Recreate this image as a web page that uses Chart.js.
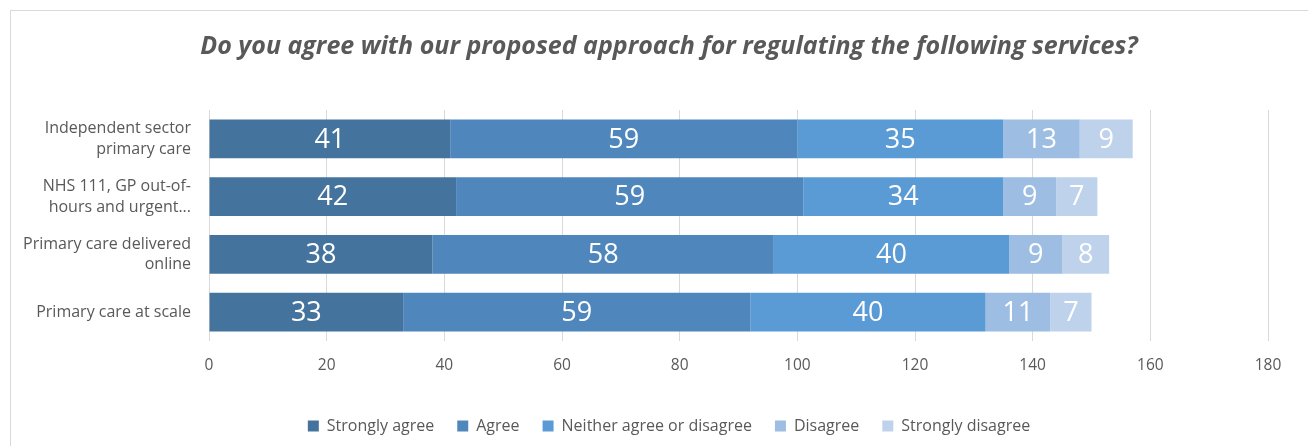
<!DOCTYPE html>
<html>
<head>
<meta charset="utf-8">
<script src="https://cdn.jsdelivr.net/npm/chart.js@4"></script>
<style>
  html, body { margin: 0; padding: 0; background: #fff; overflow: hidden; }
  #wrap { position: relative; width: 1308px; height: 446px; }
  #frame {
    position: absolute; left: 10px; top: 10px; width: 1400px; height: 600px;
    border-left: 1.5px solid #d9d9d9; border-top: 1.5px solid #d9d9d9;
  }
  canvas { position: absolute; left: 0; top: 0; }
</style>
</head>
<body>
<div id="wrap">
  <div id="frame"></div>
  <canvas id="c" width="1308" height="446"></canvas>
</div>
<script>
// Survey responses, counts per service
const CATEGORIES = [
  ["Independent sector", "primary care"],
  ["NHS 111, GP out-of-", "hours and urgent..."],
  ["Primary care delivered", "online"],
  ["Primary care at scale"],
];
const SERIES_NAMES = ["Strongly agree", "Agree", "Neither agree or disagree", "Disagree", "Strongly disagree"];
const STRONGLY_AGREE    = [41, 42, 38, 33];
const AGREE             = [59, 59, 58, 59];
const NEITHER           = [35, 34, 40, 40];
const DISAGREE          = [13, 9, 9, 11];
const STRONGLY_DISAGREE = [9, 7, 8, 7];
const COLORS = ["#44739d", "#4f87bd", "#5b9bd5", "#9dbde2", "#bed3eb"];

const TEXT = "#595959";
const FONT = "'Open Sans', 'Noto Sans', sans-serif";

// white value labels centred in each segment
const segmentLabels = {
  id: "segmentLabels",
  afterDatasetsDraw(chart) {
    const ctx = chart.ctx;
    ctx.save();
    ctx.fillStyle = "#fff";
    ctx.font = "27px " + FONT;
    ctx.textAlign = "center";
    ctx.textBaseline = "middle";
    chart.data.datasets.forEach((ds, i) => {
      chart.getDatasetMeta(i).data.forEach((bar, j) => {
        const { x, y, base } = bar.getProps(["x", "y", "base"], true);
        ctx.fillText(String(ds.data[j]), (x + base) / 2, y + 1);
      });
    });
    ctx.restore();
  }
};

// title and legend sit a bit right of the canvas centre in the original
const CENTRE_SHIFT = 35;
const shiftBlocks = {
  id: "shiftBlocks",
  afterLayout(chart) {
    [chart.titleBlock, chart.legend].forEach(b => {
      if (!b) return;
      b.left += CENTRE_SHIFT;
      b.right += CENTRE_SHIFT;
    });
  }
};

const seriesData = [STRONGLY_AGREE, AGREE, NEITHER, DISAGREE, STRONGLY_DISAGREE];

new Chart(document.getElementById("c"), {
  type: "bar",
  data: {
    labels: CATEGORIES,
    datasets: SERIES_NAMES.map((name, i) => ({
      label: name,
      data: seriesData[i],
      backgroundColor: COLORS[i],
      borderWidth: 0,
      categoryPercentage: 1,
      barPercentage: 0.67,
    })),
  },
  options: {
    indexAxis: "y",
    responsive: false,
    animation: false,
    layout: { padding: { left: 0, right: 40, top: 0, bottom: 2 } },
    plugins: {
      title: {
        display: true,
        text: "Do you agree with our proposed approach for regulating the following services?",
        color: TEXT,
        font: { family: FONT, size: 25, style: "italic", weight: "bold", lineHeight: 1.2 },
        padding: { top: 32, bottom: 48 },
      },
      legend: {
        position: "bottom",
        labels: {
          color: TEXT,
          font: { family: FONT, size: 16 },
          boxWidth: 11,
          boxHeight: 11,
          padding: 23,
        },
      },
      tooltip: { enabled: false },
    },
    scales: {
      x: {
        stacked: true,
        min: 0,
        max: 180,
        ticks: { stepSize: 20, color: TEXT, font: { family: FONT, size: 15.5 }, padding: 15 },
        grid: { color: "#d9d9d9", drawTicks: false },
        border: { display: false },
        afterFit(scale) { scale.height = 54; },
      },
      y: {
        stacked: true,
        ticks: { color: TEXT, font: { family: FONT, size: 16, lineHeight: 1.3 }, padding: 10 },
        grid: { display: false },
        border: { display: false },
        afterFit(scale) { scale.width = 209; },
      },
    },
  },
  plugins: [segmentLabels, shiftBlocks],
});
</script>
</body>
</html>
